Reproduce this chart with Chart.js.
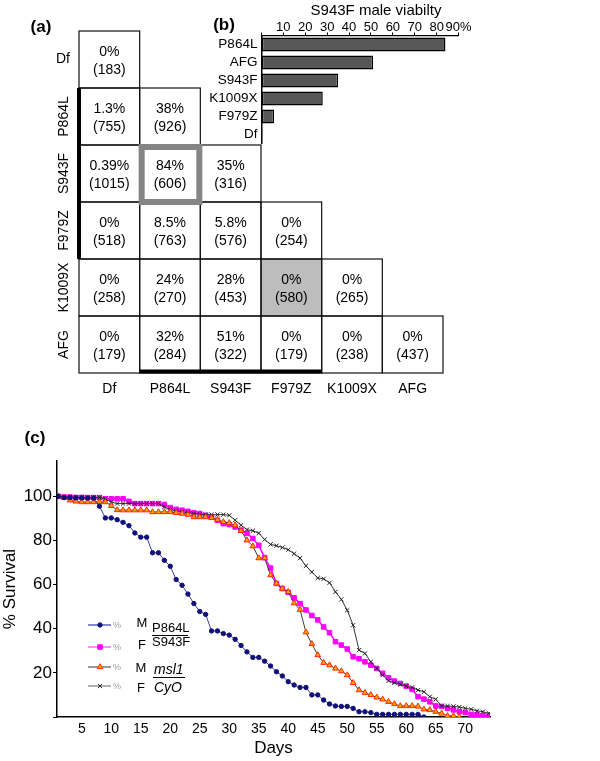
<!DOCTYPE html>
<html>
<head>
<meta charset="utf-8">
<script src="https://cdn.jsdelivr.net/npm/chart.js@4.4.0/dist/chart.umd.min.js"></script>
<style>
  html, body { margin: 0; padding: 0; background: #fff; }
  body { width: 600px; height: 761px; position: relative; overflow: hidden; }
  canvas { position: absolute; }
  #matrix { left: 0; top: 0; }
  #viab { left: 190px; top: 0; }
  #surv { left: 0; top: 420px; }
</style>
</head>
<body>
<canvas id="matrix" width="460" height="400"></canvas>
<canvas id="viab" width="300" height="160"></canvas>
<canvas id="surv" width="600" height="341"></canvas>
<script>
// (a) trans-heterozygote viability, % males (number of flies scored)
const genotypes = ['Df', 'P864L', 'S943F', 'F979Z', 'K1009X', 'AFG'];
const viability = [
  [0],
  [1.3, 38],
  [0.39, 84, 35],
  [0, 8.5, 5.8, 0],
  [0, 24, 28, 0, 0],
  [0, 32, 51, 0, 0, 0]
];
const flyCounts = [
  [183],
  [755, 926],
  [1015, 606, 316],
  [518, 763, 576, 254],
  [258, 270, 453, 580, 265],
  [179, 284, 322, 179, 238, 437]
];

// (b) S943F male viability
const s943fLabels = ['P864L', 'AFG', 'S943F', 'K1009X', 'F979Z', 'Df'];
const s943fViability = [84, 51, 35, 28, 5.8, 0.39];
const viabTicks = [0, 10, 20, 30, 40, 50, 60, 70, 80, 90];

// (c) survival curves
const days = [1, 2, 3, 4, 5, 6, 7, 8, 9, 10, 11, 12, 13, 14, 15, 16, 17, 18, 19, 20,
  21, 22, 23, 24, 25, 26, 27, 28, 29, 30, 31, 32, 33, 34, 35, 36, 37, 38, 39, 40,
  41, 42, 43, 44, 45, 46, 47, 48, 49, 50, 51, 52, 53, 54, 55, 56, 57, 58, 59, 60,
  61, 62, 63, 64, 65, 66, 67, 68, 69, 70, 71, 72, 73, 74];
const survP864lM = [100, 99.4, 99.4, 99.3, 99.3, 99.2, 99.2, 95.5, 90.2, 90.2,
  89.4, 88.2, 86.7, 83.4, 81.5, 81.5, 74.4, 74.4, 71, 68.3,
  62.3, 59.7, 55.7, 51.4, 47.8, 46.5, 39, 39, 37.8, 37.1,
  35.2, 32.4, 29.5, 27, 27, 25.3, 23.1, 20.5, 18.6, 16,
  14.5, 13.4, 13.4, 10, 10, 7.7, 5.9, 5, 4.8, 4.8,
  3.9, 2.4, 2.4, 2, 1.2, 1.2, 1.2, 1.2, 1.2, 1.2,
  1.2, 1.2, 0];
const survP864lF = [100, 99.7, 99.7, 99.5, 99.5, 99.4, 99.4, 99.4, 98.9, 98.9,
  98.9, 98.9, 97.7, 96.7, 96.7, 96.7, 96.7, 96.7, 96.3, 94.9,
  94.1, 93.7, 93.2, 92.6, 92.2, 91.4, 90.5, 89.1, 87.6, 87.2,
  86.1, 84.6, 83.2, 80.9, 77.8, 72.2, 67.5, 60.5, 58.2, 56.5,
  54, 51.4, 48.5, 46, 44, 40.8, 38.2, 34.1, 32.6, 30.8,
  27.3, 26.4, 25, 23.5, 22, 19.8, 17.8, 16.3, 15.2, 14,
  12.5, 9.2, 8.1, 6.9, 5, 4.8, 3.9, 3.2, 2.4, 2,
  1.2, 1, 0.7, 0.5];
const survCyoM = [100, 99.4, 98.2, 97.7, 97.4, 97.4, 97.4, 97.4, 97.4, 95.7,
  93.8, 93.7, 93.7, 93.7, 93.7, 93.7, 92.9, 92.9, 92.9, 92.9,
  92.5, 92.2, 91.7, 90.6, 90.6, 90.6, 90.2, 89.4, 88.4, 87.9,
  86.9, 84.4, 80.1, 77.4, 72, 72, 64.3, 60.5, 58.2, 56.7,
  51.6, 48.6, 38.4, 33.1, 28.1, 24.6, 23.5, 22, 20.8, 19,
  15.5, 12.2, 11, 10, 8.9, 8, 6.9, 5.9, 5, 5,
  5, 4.8, 3.5, 3.2, 2.4, 1.6, 0.5, 0.5, 0];
const survCyoF = [100, 99.7, 99.7, 99.5, 99.5, 99.5, 99.5, 99.5, 98.9, 97.4,
  96.7, 96.7, 96.7, 96.7, 96.7, 96.7, 96.7, 96.7, 95.2, 94,
  93.3, 92.9, 92.6, 92.2, 91.9, 91.7, 91.7, 91.7, 91.7, 91.4,
  89.2, 86.9, 84.9, 84.4, 83.3, 80.4, 78.2, 77.6, 76.8, 75.8,
  74, 72, 68.5, 65.7, 63, 62.6, 60.8, 56.7, 53.3, 48.4,
  41.6, 30.3, 28.8, 25, 22, 19, 16.4, 15.5, 14.8, 14,
  13.4, 12.2, 11.4, 9.2, 8, 5, 5, 4.8, 4.5, 3.9,
  3.5, 2.8, 2.4, 1.7];
const dayTicks = [5, 10, 15, 20, 25, 30, 35, 40, 45, 50, 55, 60, 65, 70];
const survTicks = [0, 20, 40, 60, 80, 100];

const FONT = "'Liberation Sans', Arial, Helvetica, sans-serif";
Chart.defaults.font.family = FONT;
Chart.defaults.color = '#000';

// ---------- (a) matrix ----------
const matrixPlugin = {
  id: 'matrixCells',
  afterDraw(chart) {
    const ctx = chart.ctx;
    const x = chart.scales.x, y = chart.scales.y;
    const area = chart.chartArea;
    const cw = (area.right - area.left) / genotypes.length;
    const rh = (area.bottom - area.top) / genotypes.length;
    const cellLeft = j => x.getPixelForValue(j) - cw / 2;
    const cellTop = i => y.getPixelForValue(i) - rh / 2;
    ctx.save();

    // shaded cell
    viability.forEach((row, i) => row.forEach((v, j) => {
      if (genotypes[i] === 'K1009X' && genotypes[j] === 'F979Z') {
        ctx.fillStyle = '#bdbdbd';
        ctx.fillRect(cellLeft(j), cellTop(i), cw, rh);
      }
    }));

    // cell borders
    ctx.strokeStyle = '#111';
    ctx.lineWidth = 1.2;
    viability.forEach((row, i) => row.forEach((v, j) => {
      ctx.strokeRect(cellLeft(j), cellTop(i), cw, rh);
    }));

    // highlighted cell
    const hi = genotypes.indexOf('S943F'), hj = genotypes.indexOf('P864L');
    ctx.strokeStyle = '#858585';
    ctx.lineWidth = 6;
    ctx.strokeRect(cellLeft(hj) + 2, cellTop(hi) + 2, cw - 3, rh - 2);

    // heavy bars
    ctx.strokeStyle = '#000';
    ctx.lineWidth = 4;
    ctx.beginPath();
    ctx.moveTo(area.left, cellTop(genotypes.indexOf('P864L')));
    ctx.lineTo(area.left, cellTop(genotypes.indexOf('F979Z')) + rh);
    ctx.moveTo(cellLeft(genotypes.indexOf('P864L')), area.bottom - 1.5);
    ctx.lineTo(cellLeft(genotypes.indexOf('F979Z')) + cw, area.bottom - 1.5);
    ctx.stroke();

    // cell text
    ctx.fillStyle = '#000';
    ctx.font = '14px ' + FONT;
    ctx.textAlign = 'center';
    ctx.textBaseline = 'middle';
    viability.forEach((row, i) => row.forEach((v, j) => {
      const cx = x.getPixelForValue(j), cy = y.getPixelForValue(i);
      ctx.fillText(v + '%', cx, cy - 7);
      ctx.fillText('(' + flyCounts[i][j] + ')', cx, cy + 11);
    }));

    // row / column labels
    genotypes.forEach((g, i) => {
      const cy = y.getPixelForValue(i);
      if (i === 0) {
        ctx.textAlign = 'right';
        ctx.fillText(g, area.left - 9, cy);
      } else {
        ctx.save();
        ctx.translate(area.left - 15, cy);
        ctx.rotate(-Math.PI / 2);
        ctx.textAlign = 'center';
        ctx.fillText(g, 0, 0);
        ctx.restore();
      }
      ctx.textAlign = 'center';
      ctx.fillText(g, x.getPixelForValue(i), area.bottom + 16);
    });

    ctx.font = 'bold 17px ' + FONT;
    ctx.fillText('(a)', 41, 27);
    ctx.restore();
  }
};

new Chart(document.getElementById('matrix'), {
  type: 'scatter',
  data: { datasets: [] },
  options: {
    responsive: false,
    animation: false,
    layout: { padding: { left: 79, top: 31, right: 17, bottom: 27 } },
    plugins: { legend: { display: false }, tooltip: { enabled: false } },
    scales: {
      x: { type: 'category', labels: genotypes, offset: true, display: false },
      y: { type: 'category', labels: genotypes, offset: true, display: false }
    }
  },
  plugins: [matrixPlugin]
});

// ---------- (b) bar chart ----------
const panelB = {
  id: 'panelB',
  afterDraw(chart) {
    const ctx = chart.ctx;
    ctx.save();
    ctx.fillStyle = '#000';
    ctx.textAlign = 'center';
    ctx.textBaseline = 'middle';
    ctx.font = 'bold 17px ' + FONT;
    ctx.fillText('(b)', 34, 25);
    ctx.font = '15px ' + FONT;
    ctx.fillText('S943F male viabilty', 186, 11);
    ctx.restore();
  }
};

new Chart(document.getElementById('viab'), {
  type: 'bar',
  data: {
    labels: s943fLabels,
    datasets: [{
      data: s943fViability,
      backgroundColor: '#575757',
      borderColor: '#000',
      borderWidth: 1.5,
      borderSkipped: false,
      barPercentage: 0.78,
      categoryPercentage: 1
    }]
  },
  options: {
    indexAxis: 'y',
    responsive: false,
    animation: false,
    layout: { padding: { left: 0, right: 31.4, top: 0, bottom: 16.5 } },
    plugins: { legend: { display: false }, tooltip: { enabled: false } },
    scales: {
      x: {
        position: 'top', min: 0, max: 90,
        afterBuildTicks: s => { s.ticks = viabTicks.map(v => ({ value: v })); },
        afterFit: s => { s.height = 35.5; },
        grid: { display: true, drawOnChartArea: false, drawTicks: true, tickLength: 3, color: '#000' },
        border: { color: '#000', width: 1.2 },
        ticks: {
          font: { size: 13 }, color: '#000', padding: -3, maxRotation: 0, autoSkip: false,
          callback: v => v === 0 ? '' : (v === 90 ? '90%' : String(v))
        }
      },
      y: {
        afterFit: s => { s.width = 71.4; },
        grid: { display: false, drawTicks: false },
        border: { color: '#000', width: 1.5 },
        ticks: { font: { size: 13.5 }, color: '#000', padding: 4, autoSkip: false }
      }
    }
  },
  plugins: [panelB]
});

// ---------- (c) survival ----------
const legendPlugin = {
  id: 'survLegend',
  afterDraw(chart) {
    const ctx = chart.ctx;
    const draw = Chart.helpers.drawPoint;
    const rows = [
      { y: 205, line: '#5b5bc0', ds: 0 },
      { y: 227, line: '#ff66ff', ds: 1 },
      { y: 247, line: '#777', ds: 2 },
      { y: 266, line: '#999', ds: 3 }
    ];
    ctx.save();
    rows.forEach(r => {
      const d = chart.data.datasets[r.ds];
      ctx.strokeStyle = r.line;
      ctx.lineWidth = 1.5;
      ctx.beginPath();
      ctx.moveTo(88, r.y);
      ctx.lineTo(111, r.y);
      ctx.stroke();
      ctx.fillStyle = d.pointBackgroundColor;
      ctx.strokeStyle = d.pointBorderColor;
      ctx.lineWidth = d.pointBorderWidth;
      draw(ctx, { pointStyle: d.pointStyle, radius: d.pointRadius, rotation: 0, borderWidth: d.pointBorderWidth }, 100, r.y);
      ctx.fillStyle = '#999';
      ctx.font = '9px ' + FONT;
      ctx.textAlign = 'left';
      ctx.textBaseline = 'middle';
      ctx.fillText('%', 113, r.y + 1);
    });

    ctx.fillStyle = '#000';
    ctx.textAlign = 'center';
    ctx.textBaseline = 'middle';
    ctx.font = '13px ' + FONT;
    ctx.fillText('M', 142, 203);
    ctx.fillText('F', 142, 225);
    ctx.fillText('M', 141, 248);
    ctx.fillText('F', 141, 268);

    ctx.textAlign = 'left';
    ctx.font = '13px ' + FONT;
    ctx.fillText('P864L', 152, 208);
    ctx.fillText('S943F', 152, 222);
    ctx.font = 'italic 14px ' + FONT;
    ctx.fillText('msl1', 154, 250);
    ctx.fillText('CyO', 154, 268);

    ctx.strokeStyle = '#000';
    ctx.lineWidth = 1;
    ctx.beginPath();
    ctx.moveTo(152, 215.5); ctx.lineTo(188, 215.5);
    ctx.moveTo(153, 257.5); ctx.lineTo(185, 257.5);
    ctx.stroke();

    ctx.font = 'bold 17px ' + FONT;
    ctx.textAlign = 'center';
    ctx.fillText('(c)', 35, 18);
    ctx.restore();
  }
};

new Chart(document.getElementById('surv'), {
  type: 'line',
  data: {
    labels: days,
    datasets: [
      { label: 'M P864L/S943F', data: survP864lM, order: 1,
        borderColor: '#3a3aa8', borderWidth: 1, pointStyle: 'circle', pointRadius: 2.2,
        pointBackgroundColor: '#10107a', pointBorderColor: '#10107a', pointBorderWidth: 1 },
      { label: 'F P864L/S943F', data: survP864lF, order: 4,
        borderColor: '#ff00ff', borderWidth: 1.5, pointStyle: 'rect', pointRadius: 3.2,
        pointBackgroundColor: '#ff00ff', pointBorderColor: '#ff00ff', pointBorderWidth: 1 },
      { label: 'M msl1/CyO', data: survCyoM, order: 2,
        borderColor: '#3a3a3a', borderWidth: 1, pointStyle: 'triangle', pointRadius: 3.3,
        pointBackgroundColor: '#ffa200', pointBorderColor: '#ff2a00', pointBorderWidth: 1 },
      { label: 'F msl1/CyO', data: survCyoF, order: 3,
        borderColor: '#333', borderWidth: 1, pointStyle: 'crossRot', pointRadius: 3,
        pointBackgroundColor: '#222', pointBorderColor: '#222', pointBorderWidth: 1 }
    ]
  },
  options: {
    responsive: false,
    animation: false,
    layout: { padding: { left: 0, right: 110, top: 41, bottom: 0 } },
    elements: { line: { tension: 0 } },
    plugins: { legend: { display: false }, tooltip: { enabled: false } },
    scales: {
      x: {
        type: 'linear', min: 0.8, max: 74.2,
        afterBuildTicks: s => { s.ticks = dayTicks.map(v => ({ value: v })); },
        afterFit: s => { s.height = 44; },
        grid: { display: false, drawTicks: false },
        border: { color: '#000', width: 1.5 },
        ticks: { font: { size: 14 }, color: '#000', padding: 4, maxRotation: 0, autoSkip: false },
        title: { display: true, text: 'Days', font: { size: 17 }, padding: { top: 0, bottom: 2 } }
      },
      y: {
        min: 0, max: 116,
        afterBuildTicks: s => { s.ticks = survTicks.map(v => ({ value: v })); },
        afterFit: s => { s.width = 57; },
        grid: { display: true, drawOnChartArea: false, drawTicks: true, tickLength: 4, color: '#000' },
        border: { color: '#000', width: 1.5 },
        ticks: { font: { size: 17 }, color: '#000', padding: 1, callback: v => v === 0 ? '' : String(v) },
        title: { display: true, text: '% Survival', font: { size: 17 }, padding: { top: 0, bottom: 0 } }
      }
    }
  },
  plugins: [legendPlugin]
});
</script>
</body>
</html>
